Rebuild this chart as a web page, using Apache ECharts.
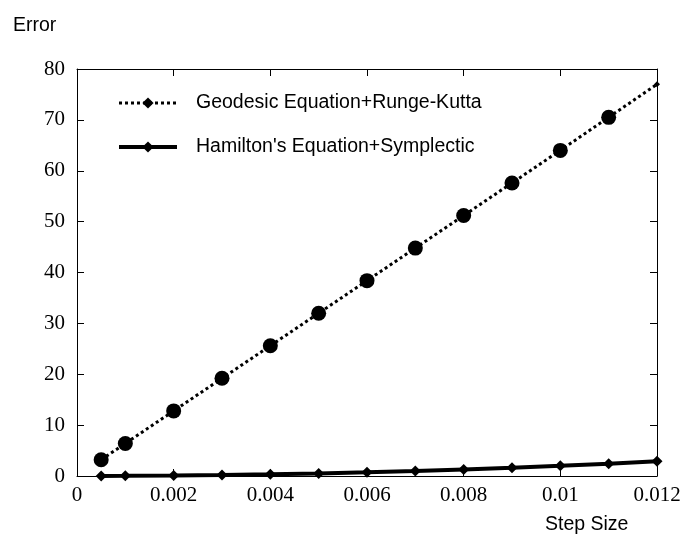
<!DOCTYPE html>
<html>
<head>
<meta charset="utf-8">
<script src="https://cdn.jsdelivr.net/npm/echarts@6/dist/echarts.min.js"></script>
<style>
html,body{margin:0;padding:0;background:#fff;}
#main{width:686px;height:539px;}
</style>
</head>
<body>
<div id="main"></div>
<script>
// step sizes and errors
var stepSize = [0.0005, 0.001, 0.002, 0.003, 0.004, 0.005, 0.006, 0.007, 0.008, 0.009, 0.01, 0.011, 0.012];
var geodesicRK = [3.2, 6.4, 12.8, 19.2, 25.6, 32.0, 38.4, 44.8, 51.2, 57.6, 64.0, 70.5, 77.0];
var hamiltonSym = [0.01, 0.03, 0.08, 0.18, 0.32, 0.5, 0.72, 0.98, 1.3, 1.62, 2.0, 2.42, 2.9];
var yTicks = [0, 10, 20, 30, 40, 50, 60, 70, 80];

function pairs(xs, ys){
	var out = [];
	for (var i = 0; i < xs.length; i++) out.push([xs[i], ys[i]]);
	return out;
}
function tick(){
	// negative length: ticks point into the plot
	return {show:true, inside:false, length:-7, lineStyle:{color:'#000', width:1}};
}
function line(){
	return {show:true, onZero:false, lineStyle:{color:'#000', width:1}};
}

var myChart = echarts.init(document.getElementById('main'));
var serif = 'Liberation Serif';
var sans = 'Liberation Sans';

var option = {
	backgroundColor:'#fff',
	animation:false,
	grid:{left:77, right:29, top:69, bottom:63},
	legend:{
		left:112, top:88, orient:'vertical', itemGap:24,
		itemWidth:58, itemHeight:14,
		textStyle:{fontFamily:sans, fontSize:19.5, color:'#000', padding:[0,0,0,14]},
		data:[
			{name:'Geodesic Equation+Runge-Kutta', lineStyle:{width:3, type:[3,3]}},
			{name:"Hamilton's Equation+Symplectic", lineStyle:{width:4}}
		]
	},
	graphic:[
		{type:'text', left:13, top:16, style:{text:'Error', font:'19.5px "Liberation Sans"', fill:'#000'}},
		{type:'text', left:545, top:515, style:{text:'Step Size', font:'19.5px "Liberation Sans"', fill:'#000'}}
	],
	xAxis:[{
		type:'value', min:0, max:0.012, interval:0.002,
		axisLine:line(), axisTick:tick(), splitLine:{show:false},
		axisLabel:{fontFamily:serif, fontSize:21, color:'#000', margin:9}
	},{
		type:'value', position:'top', min:0, max:0.012, interval:0.002,
		axisLine:line(), axisTick:tick(), splitLine:{show:false}, axisLabel:{show:false}
	}],
	yAxis:[{
		type:'value', min:yTicks[0], max:yTicks[yTicks.length-1], interval:10,
		axisLine:line(), axisTick:tick(), splitLine:{show:false},
		axisLabel:{fontFamily:serif, fontSize:21, color:'#000', margin:12}
	},{
		type:'value', position:'right', min:0, max:80, interval:10,
		axisLine:line(), axisTick:tick(), splitLine:{show:false}, axisLabel:{show:false}
	}],
	series:[
		{
			name:'Geodesic Equation+Runge-Kutta',
			type:'line',
			data:pairs(stepSize, geodesicRK),
			symbol:'diamond', symbolSize:6, showSymbol:true,
			itemStyle:{color:'#000'},
			lineStyle:{color:'#000', width:3, type:[3,3]},
			z:3
		},
		{
			name:'geodesic points',
			type:'scatter',
			data:pairs(stepSize.slice(0, 12), geodesicRK.slice(0, 12)),
			symbol:'circle', symbolSize:15,
			itemStyle:{color:'#000', opacity:1},
			z:4
		},
		{
			name:"Hamilton's Equation+Symplectic",
			type:'line',
			data:pairs(stepSize, hamiltonSym),
			symbol:'diamond', symbolSize:11, showSymbol:true,
			itemStyle:{color:'#000'},
			lineStyle:{color:'#000', width:4},
			z:5
		}
	]
};

myChart.setOption(option);
</script>
</body>
</html>
